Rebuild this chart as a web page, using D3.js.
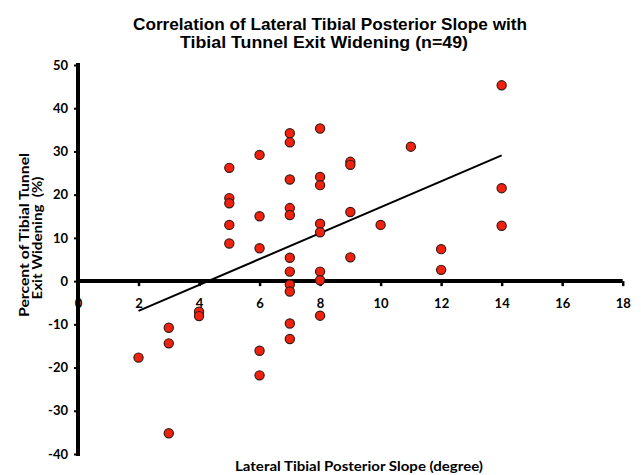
<!DOCTYPE html>
<html>
<head>
<meta charset="utf-8">
<script src="https://cdn.jsdelivr.net/npm/d3@7/dist/d3.min.js"></script>
<style>
  body { margin: 0; background: #fff; }
  svg text { fill: #000; }
  .tick-label { font-family: Lato, "Open Sans", sans-serif; font-weight: bold; font-size: 13px; }
</style>
</head>
<body>
<svg id="chart" width="641" height="475"></svg>
<script>
// slope (degree) and widening (%)
const slope = [2, 3, 3, 3, 4, 4,
  5, 5, 5, 5, 5,
  6, 6, 6, 6, 6,
  7, 7, 7, 7, 7, 7, 7, 7, 7, 7, 7,
  8, 8, 8, 8, 8, 8, 8, 8,
  9, 9, 9, 9, 10, 11, 12, 12, 14, 14, 14]
const widening = [-17.7, -10.8, -14.4, -35.2, -7.1, -8.1,
  26.2, 19.2, 18.0, 13.0, 8.7,
  29.2, 15.0, 7.6, -16.1, -21.8,
  34.2, 32.1, 23.5, 16.9, 15.3, 5.4, 2.2, -0.8, -2.4, -9.8, -13.4,
  35.3, 24.1, 22.2, 13.3, 11.3, 2.2, 0.2, -8.0,
  27.6, 26.9, 16.0, 5.5, 13.0, 31.1, 7.4, 2.6, 45.3, 21.5, 12.8]
const trendX = [2, 14]
const trendY = [-6.9, 29.1]
const xTicks = [0, 2, 4, 6, 8, 10, 12, 14, 16, 18]
const yTicks = [-40, -30, -20, -10, 0, 10, 20, 30, 40, 50]

const svg = d3.select("#chart")
const x = d3.scaleLinear().domain([0, 18]).range([78, 622.7])
const y = d3.scaleLinear().domain([-40, 50]).range([454, 65])

// title
const title = svg.append("text")
  .attr("font-family", "'Liberation Sans', Arial, sans-serif")
  .attr("font-weight", "bold")
  .attr("font-size", 17)
  .attr("text-anchor", "middle")
title.append("tspan").attr("x", 330).attr("y", 29.5)
  .attr("textLength", 394).attr("lengthAdjust", "spacingAndGlyphs")
  .text("Correlation of Lateral Tibial Posterior Slope with")
title.append("tspan").attr("x", 324).attr("y", 48)
  .attr("textLength", 288).attr("lengthAdjust", "spacingAndGlyphs")
  .text("Tibial Tunnel Exit Widening (n=49)")

// y axis
const yAxis = svg.append("g")
  .attr("transform", `translate(${x(0)},0)`)
  .call(d3.axisLeft(y).tickValues(yTicks).tickSize(4).tickPadding(6).tickFormat(d => String(d)))
yAxis.select(".domain").attr("stroke-width", 4).attr("stroke-linecap", "square")
  .attr("d", `M0,${y(50)}V${y(-40)}`)
yAxis.selectAll(".tick line").attr("stroke-width", 2)
yAxis.selectAll(".tick text").attr("class", "tick-label").attr("fill", "#000")

// x axis sits on zero
const xAxis = svg.append("g")
  .attr("transform", `translate(0,${y(0)})`)
  .call(d3.axisBottom(x).tickValues(xTicks).tickSize(5).tickPadding(13).tickFormat(d => String(d)))
xAxis.select(".domain").attr("stroke-width", 4)
  .attr("d", `M${x(0)},0H${x(18)}`)
xAxis.selectAll(".tick line").attr("stroke-width", 2.5)
xAxis.selectAll(".tick text").attr("class", "tick-label").attr("fill", "#000")

// trend line
svg.append("line")
  .attr("x1", x(trendX[0])).attr("y1", y(trendY[0]))
  .attr("x2", x(trendX[1])).attr("y2", y(trendY[1]))
  .attr("stroke", "#000").attr("stroke-width", 2)

// points
svg.append("g").selectAll("circle")
  .data(slope.map((s, i) => [s, widening[i]]))
  .join("circle")
  .attr("cx", d => x(d[0]))
  .attr("cy", d => y(d[1]))
  .attr("r", 4.6)
  .attr("fill", "#f0220f")
  .attr("stroke", "#3a1a14")
  .attr("stroke-width", 1.2)

// axis titles
svg.append("text")
  .attr("x", 235).attr("y", 471)
  .attr("font-family", "Lato, 'Open Sans', sans-serif")
  .attr("font-weight", "bold").attr("font-size", 14)
  .attr("textLength", 248).attr("lengthAdjust", "spacingAndGlyphs")
  .text("Lateral Tibial Posterior Slope (degree)")

const yLab = svg.append("text")
  .attr("transform", "rotate(-90)")
  .attr("font-family", "Lato, 'Open Sans', sans-serif")
  .attr("font-weight", "bold").attr("font-size", 14)
  .attr("text-anchor", "middle")
yLab.append("tspan").attr("x", -235).attr("y", 29)
  .attr("textLength", 164).attr("lengthAdjust", "spacingAndGlyphs")
  .text("Percent of Tibial Tunnel")
yLab.append("tspan").attr("x", -238).attr("y", 42)
  .attr("textLength", 123).attr("lengthAdjust", "spacingAndGlyphs")
  .text("Exit Widening\u00a0\u00a0(%)")
</script>
</body>
</html>
